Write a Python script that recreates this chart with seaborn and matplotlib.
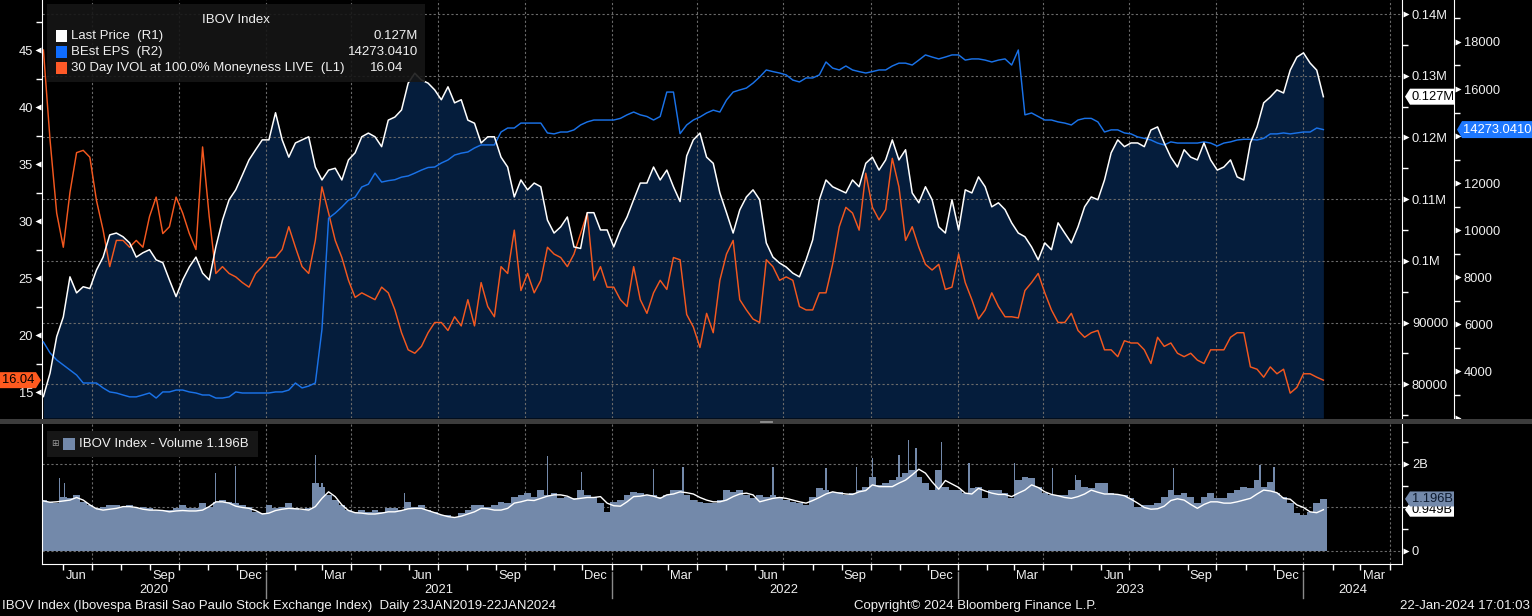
import numpy as np
import pandas as pd
import matplotlib
matplotlib.use("Agg")
import matplotlib.pyplot as plt
from matplotlib.patches import Rectangle, Polygon
from matplotlib.transforms import ScaledTranslation, blended_transform_factory
from matplotlib.ticker import FixedLocator, FuncFormatter, NullLocator
from matplotlib.lines import Line2D
import seaborn as sns

plt.rcParams['font.family'] = ['Liberation Sans', 'DejaVu Sans']
plt.rcParams['font.size'] = 9.5

# ---------------- DATA (weekly readings) ----------------
dates = pd.date_range("2020-05-11", periods=194, freq="7D")

price = [78000, 81800, 87700, 90900, 97400, 94800, 95800, 95500, 98500, 100600,
         104200, 104500, 103900, 102900, 100600, 101300, 101800, 100150, 99700, 96900,
         94200, 96900, 99000, 100600, 98000, 96900, 102250, 106600, 109900, 111500,
         113900, 116350, 118000, 119600, 119600, 124000, 119600, 116800, 119100, 119600,
         120100, 115200, 113100, 114700, 115000, 113100, 116350, 117500, 120100, 120700,
         120100, 118500, 122800, 123300, 124450, 128800, 130400, 129300, 128800, 127700,
         126100, 128200, 125600, 126100, 122800, 122300, 119100, 120100, 120100, 116800,
         115200, 110350, 113100, 111500, 112600, 112000, 106600, 104500, 105500, 107100,
         102250, 102000, 107800, 107800, 105000, 105000, 102250, 105000, 107100, 109900,
         112600, 112600, 115200, 113100, 114700, 112000, 109600, 117000, 119600, 120700,
         116800, 115800, 111000, 107800, 104500, 108250, 110350, 111500, 109900, 102900,
         100600, 99650, 99000, 98000, 97400, 100150, 103400, 109900, 113100, 112000,
         111500, 111000, 113100, 112000, 115800, 116800, 114700, 116350, 119600, 116350,
         118000, 111000, 109400, 112000, 109900, 105500, 104500, 109900, 105000, 111500,
         111000, 113600, 112000, 108750, 109400, 108300, 106150, 104500, 103900, 102250,
         100150, 102900, 101800, 106150, 104500, 102900, 105500, 108750, 110350, 109900,
         113100, 117500, 119600, 118500, 119100, 119100, 118500, 121200, 121700, 119100,
         116800, 115200, 118000, 116800, 116350, 119100, 116350, 114700, 115200, 116350,
         113600, 113100, 119100, 121700, 125600, 126550, 127700, 127200, 130900, 133000,
         133700, 132050, 130900, 126600]

ivol = [45.0, 37.1, 30.7, 27.7, 32.5, 36.0, 36.2, 35.6, 31.8, 29.2,
        26.0, 28.3, 28.3, 27.7, 28.3, 27.7, 30.4, 32.1, 28.9, 29.5,
        32.1, 30.7, 28.9, 27.5, 36.5, 30.4, 25.4, 26.0, 25.4, 25.1,
        24.6, 24.2, 25.4, 26.0, 26.8, 26.8, 27.5, 29.5, 27.7, 26.0,
        25.4, 28.3, 33.0, 30.7, 28.3, 26.8, 24.8, 23.3, 23.7, 23.4,
        23.1, 24.2, 23.7, 22.2, 20.2, 18.7, 18.4, 19.0, 20.2, 21.1,
        21.1, 20.4, 21.6, 20.8, 23.1, 20.8, 24.6, 22.5, 21.6, 26.0,
        25.4, 29.2, 23.9, 25.4, 23.7, 24.8, 27.7, 27.1, 26.8, 26.0,
        27.1, 28.9, 30.7, 24.8, 26.0, 24.2, 24.2, 23.1, 22.5, 26.0,
        23.1, 21.9, 23.7, 24.8, 24.0, 26.8, 26.6, 21.8, 20.7, 18.9,
        21.9, 20.2, 24.8, 27.1, 28.3, 23.1, 22.2, 21.4, 21.1, 26.6,
        26.0, 24.8, 25.1, 24.8, 22.5, 22.2, 22.2, 23.7, 23.7, 26.2,
        29.5, 31.2, 30.7, 29.2, 34.2, 31.2, 30.1, 31.0, 35.5, 33.0,
        28.3, 29.5, 27.7, 26.2, 25.7, 26.2, 24.0, 24.2, 27.1, 24.6,
        23.1, 21.4, 22.2, 23.7, 22.5, 21.6, 21.6, 21.5, 23.9, 24.6,
        25.4, 23.7, 22.2, 21.1, 21.1, 21.9, 20.4, 19.8, 20.2, 20.4,
        18.7, 18.7, 18.1, 19.5, 19.3, 19.3, 18.7, 17.5, 19.8, 19.0,
        19.3, 18.4, 18.1, 18.4, 17.8, 17.5, 18.7, 18.7, 18.7, 19.8,
        20.2, 20.2, 17.2, 17.0, 16.3, 17.2, 16.6, 17.0, 14.9, 15.4,
        16.6, 16.6, 16.3, 16.04]

eps = [5235, 4770, 4470, 4256, 4040, 3830, 3490, 3490, 3490, 3280,
       3110, 3065, 2980, 2900, 2900, 2980, 3065, 2850, 3110, 3110,
       3190, 3190, 3110, 3065, 2980, 2980, 2850, 2850, 2900, 3110,
       3065, 3065, 3065, 3065, 3065, 3110, 3110, 3190, 3490, 3280,
       3360, 3490, 5770, 10500, 10720, 10980, 11270, 11400, 11830, 11950,
       12420, 12040, 12100, 12140, 12250, 12300, 12420, 12550, 12660, 12680,
       12850, 12980, 13190, 13270, 13320, 13490, 13620, 13620, 13620, 14170,
       14340, 14340, 14550, 14550, 14550, 14550, 14130, 14090, 14170, 14170,
       14260, 14470, 14600, 14680, 14680, 14680, 14680, 14750, 14900, 15020,
       14900, 14830, 14680, 14830, 15870, 15870, 14100, 14470, 14680, 14810,
       14980, 15100, 15020, 15530, 15870, 15960, 16040, 16250, 16510, 16810,
       16740, 16680, 16600, 16380, 16300, 16470, 16470, 16600, 17150, 16890,
       16810, 16980, 16810, 16740, 16680, 16740, 16810, 16810, 16980, 17100,
       17100, 17020, 17230, 17450, 17360, 17280, 17360, 17450, 17450, 17230,
       17280, 17280, 17230, 17150, 17230, 17280, 17020, 17660, 14900, 14980,
       14830, 14680, 14680, 14600, 14550, 14470, 14680, 14750, 14750, 14600,
       14170, 14260, 14260, 14130, 14090, 13960, 13900, 13830, 13700, 13620,
       13750, 13700, 13700, 13700, 13700, 13750, 13700, 13575, 13700, 13750,
       13830, 13860, 13860, 13830, 13900, 14090, 14090, 14130, 14090, 14130,
       14170, 14170, 14340, 14273.041]

volume = [1.17, 1.13, 1.10, 1.25, 1.21, 1.29, 1.13, 1.06, 0.98, 1.02,
          1.06, 1.06, 1.02, 1.06, 0.98, 1.02, 0.98, 0.94, 0.94, 0.94,
          0.98, 1.06, 0.98, 0.98, 1.10, 1.02, 1.13, 1.17, 1.13, 1.10,
          1.06, 1.02, 0.90, 0.87, 1.06, 0.98, 1.02, 1.10, 0.98, 0.94,
          0.98, 1.56, 1.48, 1.29, 1.17, 1.06, 0.94, 0.90, 0.94, 0.90,
          0.94, 0.90, 0.98, 0.98, 0.94, 1.13, 1.02, 1.06, 0.94, 0.90,
          0.83, 0.83, 0.79, 0.87, 0.94, 1.06, 1.06, 1.02, 1.06, 1.13,
          1.10, 1.25, 1.29, 1.33, 1.25, 1.40, 1.29, 1.33, 1.21, 1.25,
          1.21, 1.40, 1.29, 1.25, 1.10, 0.90, 1.13, 1.17, 1.29, 1.36,
          1.33, 1.29, 1.29, 1.25, 1.29, 1.40, 1.40, 1.29, 1.17, 1.13,
          1.10, 1.10, 1.17, 1.40, 1.36, 1.40, 1.29, 1.21, 1.29, 1.25,
          1.29, 1.25, 1.17, 1.13, 1.10, 1.06, 1.25, 1.44, 1.40, 1.36,
          1.36, 1.29, 1.33, 1.40, 1.48, 1.71, 1.52, 1.56, 1.63, 1.71,
          1.79, 1.86, 1.71, 1.56, 1.40, 1.86, 1.48, 1.40, 1.40, 1.33,
          1.44, 1.48, 1.21, 1.40, 1.40, 1.33, 1.21, 1.63, 1.71, 1.67,
          1.48, 1.33, 1.29, 1.29, 1.29, 1.40, 1.63, 1.48, 1.44, 1.56,
          1.56, 1.33, 1.29, 1.29, 1.21, 1.02, 1.06, 1.06, 1.10, 1.25,
          1.40, 1.29, 1.33, 1.25, 1.10, 1.25, 1.33, 1.21, 1.21, 1.33,
          1.40, 1.48, 1.44, 1.63, 1.48, 1.59, 1.33, 1.25, 1.10, 0.87,
          0.83, 0.90, 1.10, 1.196]

volume_ma = [1.15, 1.12, 1.13, 1.15, 1.17, 1.23, 1.17, 1.06, 0.97, 0.94,
             0.96, 0.98, 1.02, 1.02, 1.00, 0.96, 0.94, 0.94, 0.93, 0.90,
             0.92, 0.93, 0.92, 0.92, 0.94, 1.02, 1.13, 1.13, 1.10, 1.03,
             1.00, 0.98, 0.93, 0.85, 0.87, 0.93, 0.96, 0.98, 0.97, 0.96,
             0.94, 1.02, 1.21, 1.36, 1.25, 1.06, 0.93, 0.88, 0.87, 0.85,
             0.85, 0.87, 0.90, 0.90, 0.93, 0.97, 0.98, 0.98, 0.93, 0.88,
             0.83, 0.79, 0.77, 0.80, 0.85, 0.90, 0.98, 0.97, 0.94, 0.94,
             0.98, 1.10, 1.13, 1.17, 1.16, 1.21, 1.26, 1.29, 1.29, 1.26,
             1.19, 1.21, 1.23, 1.23, 1.25, 1.10, 1.04, 1.03, 1.13, 1.25,
             1.26, 1.29, 1.26, 1.21, 1.29, 1.31, 1.36, 1.34, 1.31, 1.23,
             1.17, 1.13, 1.13, 1.17, 1.25, 1.31, 1.33, 1.29, 1.13, 1.17,
             1.21, 1.23, 1.21, 1.17, 1.13, 1.10, 1.16, 1.23, 1.31, 1.36,
             1.33, 1.31, 1.30, 1.36, 1.39, 1.52, 1.48, 1.48, 1.48, 1.56,
             1.63, 1.75, 1.88, 1.79, 1.59, 1.42, 1.62, 1.54, 1.46, 1.33,
             1.31, 1.44, 1.38, 1.33, 1.30, 1.30, 1.25, 1.33, 1.40, 1.52,
             1.46, 1.36, 1.30, 1.27, 1.23, 1.21, 1.25, 1.31, 1.40, 1.35,
             1.31, 1.31, 1.30, 1.27, 1.19, 1.10, 1.00, 0.96, 0.97, 1.03,
             1.16, 1.20, 1.17, 1.07, 0.98, 1.07, 1.13, 1.13, 1.10, 1.10,
             1.13, 1.17, 1.21, 1.31, 1.40, 1.38, 1.34, 1.21, 1.19, 1.06,
             1.00, 0.90, 0.88, 0.949]

spike_dates = pd.to_datetime([
    "2020-05-28", "2020-06-02", "2020-11-09", "2020-11-30", "2021-02-22", "2021-03-01",
    "2021-05-27", "2021-10-25", "2021-11-30", "2022-02-14", "2022-03-17", "2022-06-20",
    "2022-08-15", "2022-09-16", "2022-10-03", "2022-10-31", "2022-11-10", "2022-11-18",
    "2022-12-15", "2023-01-13", "2023-03-02", "2023-04-11", "2023-05-05", "2023-08-17",
    "2023-11-16", "2023-12-01"])
spike_vals = [1.67, 1.56, 1.79, 1.95, 2.21, 1.56, 1.33, 2.18, 1.82, 1.88, 1.94, 1.94,
              1.90, 1.94, 2.13, 2.21, 2.55, 2.36, 2.51, 2.02, 2.02, 1.90, 1.75, 1.90,
              1.98, 1.94]

r1_ticks = [80000, 90000, 100000, 110000, 120000, 130000, 140000]
l1_ticks = [15, 20, 25, 30, 35, 40, 45]
r2_ticks = [2000, 4000, 6000, 8000, 10000, 12000, 14000, 16000, 18000]

# ---------------- STYLE ----------------
W, H = 1532, 616
BG = 'black'
FILL = '#051d3c'
ORANGE = '#f4581f'
BLUE = '#1a72e8'
SLATE = '#7389aa'
GRID = '#6a6a6a'
TXT = '#f0f0f0'
TICK_FS = 9.3

fig = plt.figure(figsize=(W / 100, H / 100), dpi=100, facecolor=BG)

def fx(px):
    return px / W

def fy(py):
    return 1 - py / H

main_rect = [fx(42), fy(418), fx(1402) - fx(42), fy(0) - fy(418)]
vol_rect = [fx(42), fy(564), fx(1402) - fx(42), fy(424) - fy(564)]

xmin = pd.Timestamp("2020-05-09 12:00")
xmax = pd.Timestamp("2024-04-14")

df = pd.DataFrame({'date': dates, 'price': price, 'ivol': ivol, 'eps': eps,
                   'vol': volume, 'vma': volume_ma})

ax_bg = fig.add_axes(main_rect)
ax_bg.set_facecolor(BG)
ax_iv = ax_bg.twinx()
ax_ep = ax_bg.twinx()
ax_pr = ax_bg.twinx()
ax_bg.set_zorder(0)
ax_iv.set_zorder(1)
ax_ep.set_zorder(2)
ax_pr.set_zorder(3)

R1_LIM = (74524, 142269)
L1_LIM = (12.72, 49.39)
R2_LIM = (2001, 19787)

# fill under price
ax_bg.fill_between(df['date'], df['price'], R1_LIM[0], color=FILL, lw=0, zorder=1)

quarters = pd.date_range("2020-07-01", "2024-04-01", freq="QS")
for q in quarters:
    ax_bg.axvline(q, color=GRID, lw=0.8, ls=(0, (2, 2)), zorder=2)
for t in r1_ticks:
    ax_bg.axhline(t, color=GRID, lw=0.8, ls=(0, (2, 2)), zorder=2)

sns.lineplot(data=df, x='date', y='ivol', ax=ax_iv, color=ORANGE, linewidth=1.05)
sns.lineplot(data=df, x='date', y='eps', ax=ax_ep, color=BLUE, linewidth=1.05)
sns.lineplot(data=df, x='date', y='price', ax=ax_pr, color='white', linewidth=1.1)

for a in (ax_bg, ax_iv, ax_ep, ax_pr):
    a.set_xlim(xmin, xmax)
    a.set_xlabel('')
    a.set_ylabel('')
    a.tick_params(axis='x', which='both', bottom=False, top=False,
                  labelbottom=False, labeltop=False)
    for s in a.spines.values():
        s.set_visible(False)

ax_bg.set_ylim(*R1_LIM)
ax_pr.set_ylim(*R1_LIM)
ax_iv.set_ylim(*L1_LIM)
ax_ep.set_ylim(*R2_LIM)

def r1_fmt(v, _):
    if v >= 100000:
        s = f"{v / 1e6:.2f}".rstrip('0').rstrip('.')
        return s + "M"
    return f"{int(v)}"

# R1 axis
ax_bg.yaxis.tick_right()
ax_bg.yaxis.set_major_locator(FixedLocator(r1_ticks))
ax_bg.yaxis.set_minor_locator(FixedLocator(list(range(75000, 142000, 5000))))
ax_bg.yaxis.set_major_formatter(FuncFormatter(r1_fmt))
ax_bg.tick_params(axis='y', which='major', length=0, pad=7.2, colors=TXT, labelsize=TICK_FS)
ax_bg.tick_params(axis='y', which='minor', length=4, width=1, color='white')
ax_bg.spines['right'].set_visible(True)
ax_bg.spines['right'].set_color('white')

# L1 axis
ax_iv.yaxis.tick_left()
ax_iv.yaxis.set_major_locator(FixedLocator(l1_ticks))
ax_iv.yaxis.set_minor_locator(FixedLocator([12.5 + 2.5 * k for k in range(15)]))
ax_iv.yaxis.set_major_formatter(FuncFormatter(lambda v, _: f"{int(v)}"))
ax_iv.tick_params(axis='y', which='major', length=0, pad=6.5, colors=TXT, labelsize=TICK_FS)
ax_iv.tick_params(axis='y', which='minor', length=4, width=1, color='white')
ax_iv.spines['left'].set_visible(True)
ax_iv.spines['left'].set_color('white')

# R2 axis (the 14000 label sits behind the last-value tag in the reference)
ax_ep.yaxis.tick_right()
ax_ep.spines['right'].set_visible(True)
ax_ep.spines['right'].set_color('white')
ax_ep.spines['right'].set_position(('outward', 52 * 72 / 100))
ax_ep.yaxis.set_major_locator(FixedLocator(r2_ticks))
ax_ep.yaxis.set_minor_locator(FixedLocator(list(range(3000, 19500, 2000))))
ax_ep.yaxis.set_major_formatter(
    FuncFormatter(lambda v, _: "" if (v < 3000 or v == 14000) else f"{int(v)}"))
ax_ep.tick_params(axis='y', which='major', length=0, pad=7.2, colors=TXT, labelsize=TICK_FS)
ax_ep.tick_params(axis='y', which='minor', length=4, width=1, color='white')

ax_pr.yaxis.set_visible(False)

def triangles(ax, vals, side, dx_px):
    tr = ax.get_yaxis_transform() + ScaledTranslation(dx_px / 100, 0, fig.dpi_scale_trans)
    xs = [1.0 if side == 'right' else 0.0] * len(vals)
    ax.add_line(Line2D(xs, vals, ls='none', marker='>' if side == 'right' else '<',
                       ms=5, color='white', mec='none', transform=tr, clip_on=False))

triangles(ax_bg, r1_ticks, 'right', 4)
triangles(ax_iv, l1_ticks, 'left', -4)
triangles(ax_ep, r2_ticks, 'right', 56)

# ---------------- VOLUME PANEL ----------------
ax_v = fig.add_axes(vol_rect)
ax_v.set_facecolor(BG)
for q in quarters:
    ax_v.axvline(q, color=GRID, lw=0.8, ls=(0, (2, 2)), zorder=0.5)
for t in (0, 1, 2):
    ax_v.axhline(t, color=GRID, lw=0.8, ls=(0, (2, 2)), zorder=0.5)
ax_v.bar(df['date'], df['vol'], width=7, color=SLATE, lw=0, zorder=1)
ax_v.bar(spike_dates, spike_vals, width=1.3, color=SLATE, lw=0, zorder=1)
sns.lineplot(data=df, x='date', y='vma', ax=ax_v, color='white', linewidth=1.0, zorder=3)
ax_v.set_xlim(xmin, xmax)
ax_v.set_ylim(-0.30, 2.92)
ax_v.set_xlabel('')
ax_v.set_ylabel('')
ax_v.spines['top'].set_visible(False)
for s in ('left', 'right', 'bottom'):
    ax_v.spines[s].set_color('white')
ax_v.yaxis.tick_right()
ax_v.yaxis.set_major_locator(FixedLocator([0, 2]))
ax_v.yaxis.set_minor_locator(FixedLocator([0.5, 1.0, 1.5, 2.5]))
ax_v.yaxis.set_major_formatter(FuncFormatter(lambda v, _: "0" if v == 0 else f"{int(v)}B"))
ax_v.tick_params(axis='y', which='major', length=0, pad=7.2, colors=TXT, labelsize=TICK_FS)
ax_v.tick_params(axis='y', which='minor', length=4, width=1, color='white')
triangles(ax_v, [0, 2], 'right', 4)

months = pd.date_range("2020-06-01", "2024-04-01", freq="MS")
ax_v.xaxis.set_major_locator(FixedLocator([matplotlib.dates.date2num(m) for m in months]))
ax_v.xaxis.set_minor_locator(NullLocator())
ax_v.tick_params(axis='x', which='major', length=4, width=1, color='white',
                 labelbottom=False)

btr = blended_transform_factory(ax_v.transData, ax_v.transAxes)
mnames = {3: 'Mar', 6: 'Jun', 9: 'Sep', 12: 'Dec'}
for m in months:
    if m.month in mnames:
        d = m + pd.Timedelta(days=14)
        if d < xmax:
            ax_v.text(d, (564 - 576) / 140, mnames[m.month], transform=btr, ha='center',
                      va='center', color=TXT, fontsize=TICK_FS, clip_on=False)
year_mid = {"2020": pd.Timestamp("2020-09-05"), "2021": pd.Timestamp("2021-07-02"),
            "2022": pd.Timestamp("2022-07-02"), "2023": pd.Timestamp("2023-07-02"),
            "2024": pd.Timestamp("2024-02-22")}
for y, d in year_mid.items():
    ax_v.text(d, (564 - 590) / 140, y, transform=btr, ha='center', va='center',
              color=TXT, fontsize=TICK_FS, clip_on=False)
for yb in ("2021-01-01", "2022-01-01", "2023-01-01", "2024-01-01"):
    ax_v.add_line(Line2D([pd.Timestamp(yb)] * 2, [(564 - 572) / 140, (564 - 598) / 140],
                         transform=btr, color='#8a8a8a', lw=1, clip_on=False))

# ---------------- SEPARATOR ----------------
fig.add_artist(Rectangle((0, fy(423.5)), 1, fy(419) - fy(423.5), transform=fig.transFigure,
                         fc='#3c3c3c', ec='none', zorder=4))
fig.add_artist(Line2D([fx(760), fx(772)], [fy(420.5), fy(420.5)], transform=fig.transFigure,
                      color='#9a9a9a', lw=0.6, zorder=4.5))
fig.add_artist(Line2D([fx(760), fx(772)], [fy(422.3), fy(422.3)], transform=fig.transFigure,
                      color='#9a9a9a', lw=0.6, zorder=4.5))

# ---------------- LEGENDS ----------------
fig.add_artist(Rectangle((fx(47), fy(82)), fx(425) - fx(47), fy(4) - fy(82),
                         transform=fig.transFigure, fc='#161616', ec='none', alpha=0.9,
                         zorder=5))
fig.text(fx(236), fy(20), "IBOV Index", ha='center', va='center', color=TXT, zorder=6)
rows = [("Last Price  (R1)", 'white', "0.127M", 418),
        ("BEst EPS  (R2)", '#0f6dff', "14273.0410", 418),
        ("30 Day IVOL at 100.0% Moneyness LIVE  (L1)", '#ff5a28', "16.04", 403)]
for k, (lab, col, val, vx) in enumerate(rows):
    yc = 36 + 16 * k
    fig.add_artist(Rectangle((fx(56), fy(yc + 5.5)), fx(11), fy(yc - 5.5) - fy(yc + 5.5),
                             transform=fig.transFigure, fc=col, ec='none', zorder=6))
    fig.text(fx(71), fy(yc), lab, ha='left', va='center', color=TXT, zorder=6)
    fig.text(fx(vx), fy(yc), val, ha='right', va='center', color=TXT, zorder=6)

fig.add_artist(Rectangle((fx(47), fy(457)), fx(258) - fx(47), fy(431) - fy(457),
                         transform=fig.transFigure, fc='#161616', ec='none', zorder=5))
fig.text(fx(51), fy(444), "\u229e", family=['DejaVu Sans'], fontsize=6.5, color='#9a9a9a',
         ha='left', va='center', zorder=6)
fig.add_artist(Rectangle((fx(63), fy(450)), fx(12), fy(438) - fy(450),
                         transform=fig.transFigure, fc=SLATE, ec='none', zorder=6))
fig.text(fx(79), fy(444), "IBOV Index - Volume 1.196B", ha='left', va='center',
         color=TXT, zorder=6)

# ---------------- VALUE TAGS ----------------
def tag(x_tip, y_img, w, h, direction, fc, txt, tc, z=7):
    a = 5
    if direction == 'left':
        pts = [(x_tip, y_img), (x_tip + a, y_img - h / 2), (x_tip + w, y_img - h / 2),
               (x_tip + w, y_img + h / 2), (x_tip + a, y_img + h / 2)]
        cx = x_tip + a + (w - a) / 2
    else:
        pts = [(x_tip, y_img), (x_tip - a, y_img - h / 2), (x_tip - w, y_img - h / 2),
               (x_tip - w, y_img + h / 2), (x_tip - a, y_img + h / 2)]
        cx = x_tip - a - (w - a) / 2
    fig.add_artist(Polygon([(fx(px), fy(py)) for px, py in pts], closed=True,
                           transform=fig.transFigure, fc=fc, ec='none', zorder=z))
    fig.text(fx(cx), fy(y_img), txt, ha='center', va='center', color=tc, zorder=z + 0.1,
             fontsize=TICK_FS)

def img_y(ax, val):
    d = ax.transData.transform((matplotlib.dates.date2num(dates[-1]), val))
    return H - d[1]

tag(1405, img_y(ax_pr, price[-1]), 50, 16, 'left', 'white', "0.127M", 'black')
tag(1457, img_y(ax_ep, eps[-1]), 75, 17, 'left', '#1e78ff', "14273.0410", 'white')
tag(41, img_y(ax_iv, ivol[-1]), 41, 16, 'right', '#ff5a1f', "16.04", 'black')
tag(1405, img_y(ax_v, volume_ma[-1]), 49, 14, 'left', 'white', "0.949B", 'black')
tag(1405, img_y(ax_v, volume[-1]), 49, 15, 'left', SLATE, "1.196B", '#0d1a2e', z=8)

# ---------------- FOOTER ----------------
fig.text(fx(2), fy(606), "IBOV Index (Ibovespa Brasil Sao Paulo Stock Exchange Index)  "
         "Daily 23JAN2019-22JAN2024", ha='left', va='center', color=TXT)
fig.text(fx(976), fy(606), "Copyright\u00a9 2024 Bloomberg Finance L.P.", ha='center',
         va='center', color=TXT)
fig.text(fx(1530), fy(606), "22-Jan-2024 17:01:03", ha='right', va='center', color=TXT)

fig.savefig("out.png", dpi=100, facecolor=BG)
